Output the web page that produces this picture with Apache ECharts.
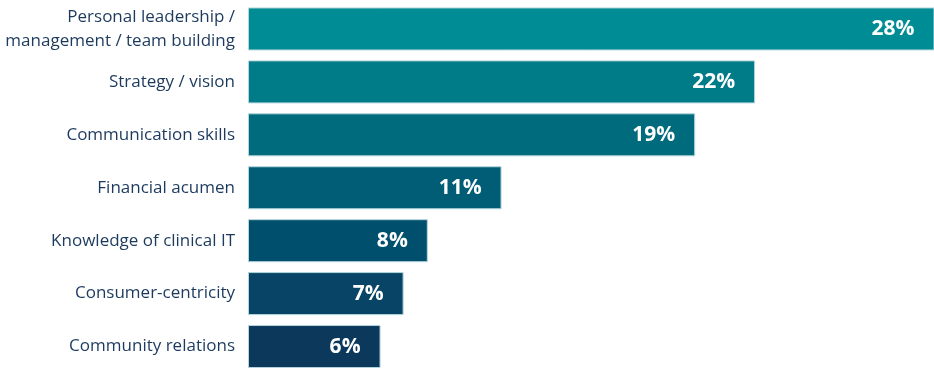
<!DOCTYPE html>
<html>
<head>
<meta charset="utf-8">
<script src="https://cdn.jsdelivr.net/npm/echarts@6/dist/echarts.min.js"></script>
<style>
html,body{margin:0;padding:0;background:#fff;}
#chart{width:934px;height:373px;}
</style>
</head>
<body>
<div id="chart"></div>
<script>
// Categories top to bottom
const categories = [
  "Personal leadership /\nmanagement / team building",
  "Strategy / vision",
  "Communication skills",
  "Financial acumen",
  "Knowledge of clinical IT",
  "Consumer-centricity",
  "Community relations"
];
// Bar lengths (percent)
const values = [29.8, 22, 19.4, 11, 7.8, 6.75, 5.75];
// Printed value labels
const valueLabels = ["28%", "22%", "19%", "11%", "8%", "7%", "6%"];
const barColors = ["#008c95", "#007b88", "#006b7d", "#005d75", "#004f6d", "#074465", "#0c385c"];

const chart = echarts.init(document.getElementById('chart'), null, {renderer: 'canvas'});
const cats = categories.slice().reverse();
const data = values.map((v, i) => ({
  value: v,
  itemStyle: { color: barColors[i] },
  label: { formatter: valueLabels[i] }
})).reverse();

chart.setOption({
  animation: false,
  grid: { left: 248, right: 0, top: 2.5, bottom: 0, containLabel: false },
  xAxis: {
    type: 'value', min: 0, max: 29.76,
    show: false
  },
  yAxis: {
    type: 'category', data: cats,
    axisLine: { show: false }, axisTick: { show: false },
    axisLabel: {
      color: '#1c3a5e', fontSize: 17, fontFamily: 'Open Sans, sans-serif',
      margin: 13, lineHeight: 24, align: 'right'
    }
  },
  series: [{
    type: 'bar',
    data: data,
    barWidth: 43,
    itemStyle: { borderColor: '#b5d6dd', borderWidth: 1 },
    label: {
      show: true, position: 'insideRight', offset: [-15, 0],
      color: '#ffffff', fontSize: 21, fontWeight: 'bold',
      fontFamily: 'Open Sans, sans-serif'
    }
  }]
});
</script>
</body>
</html>
